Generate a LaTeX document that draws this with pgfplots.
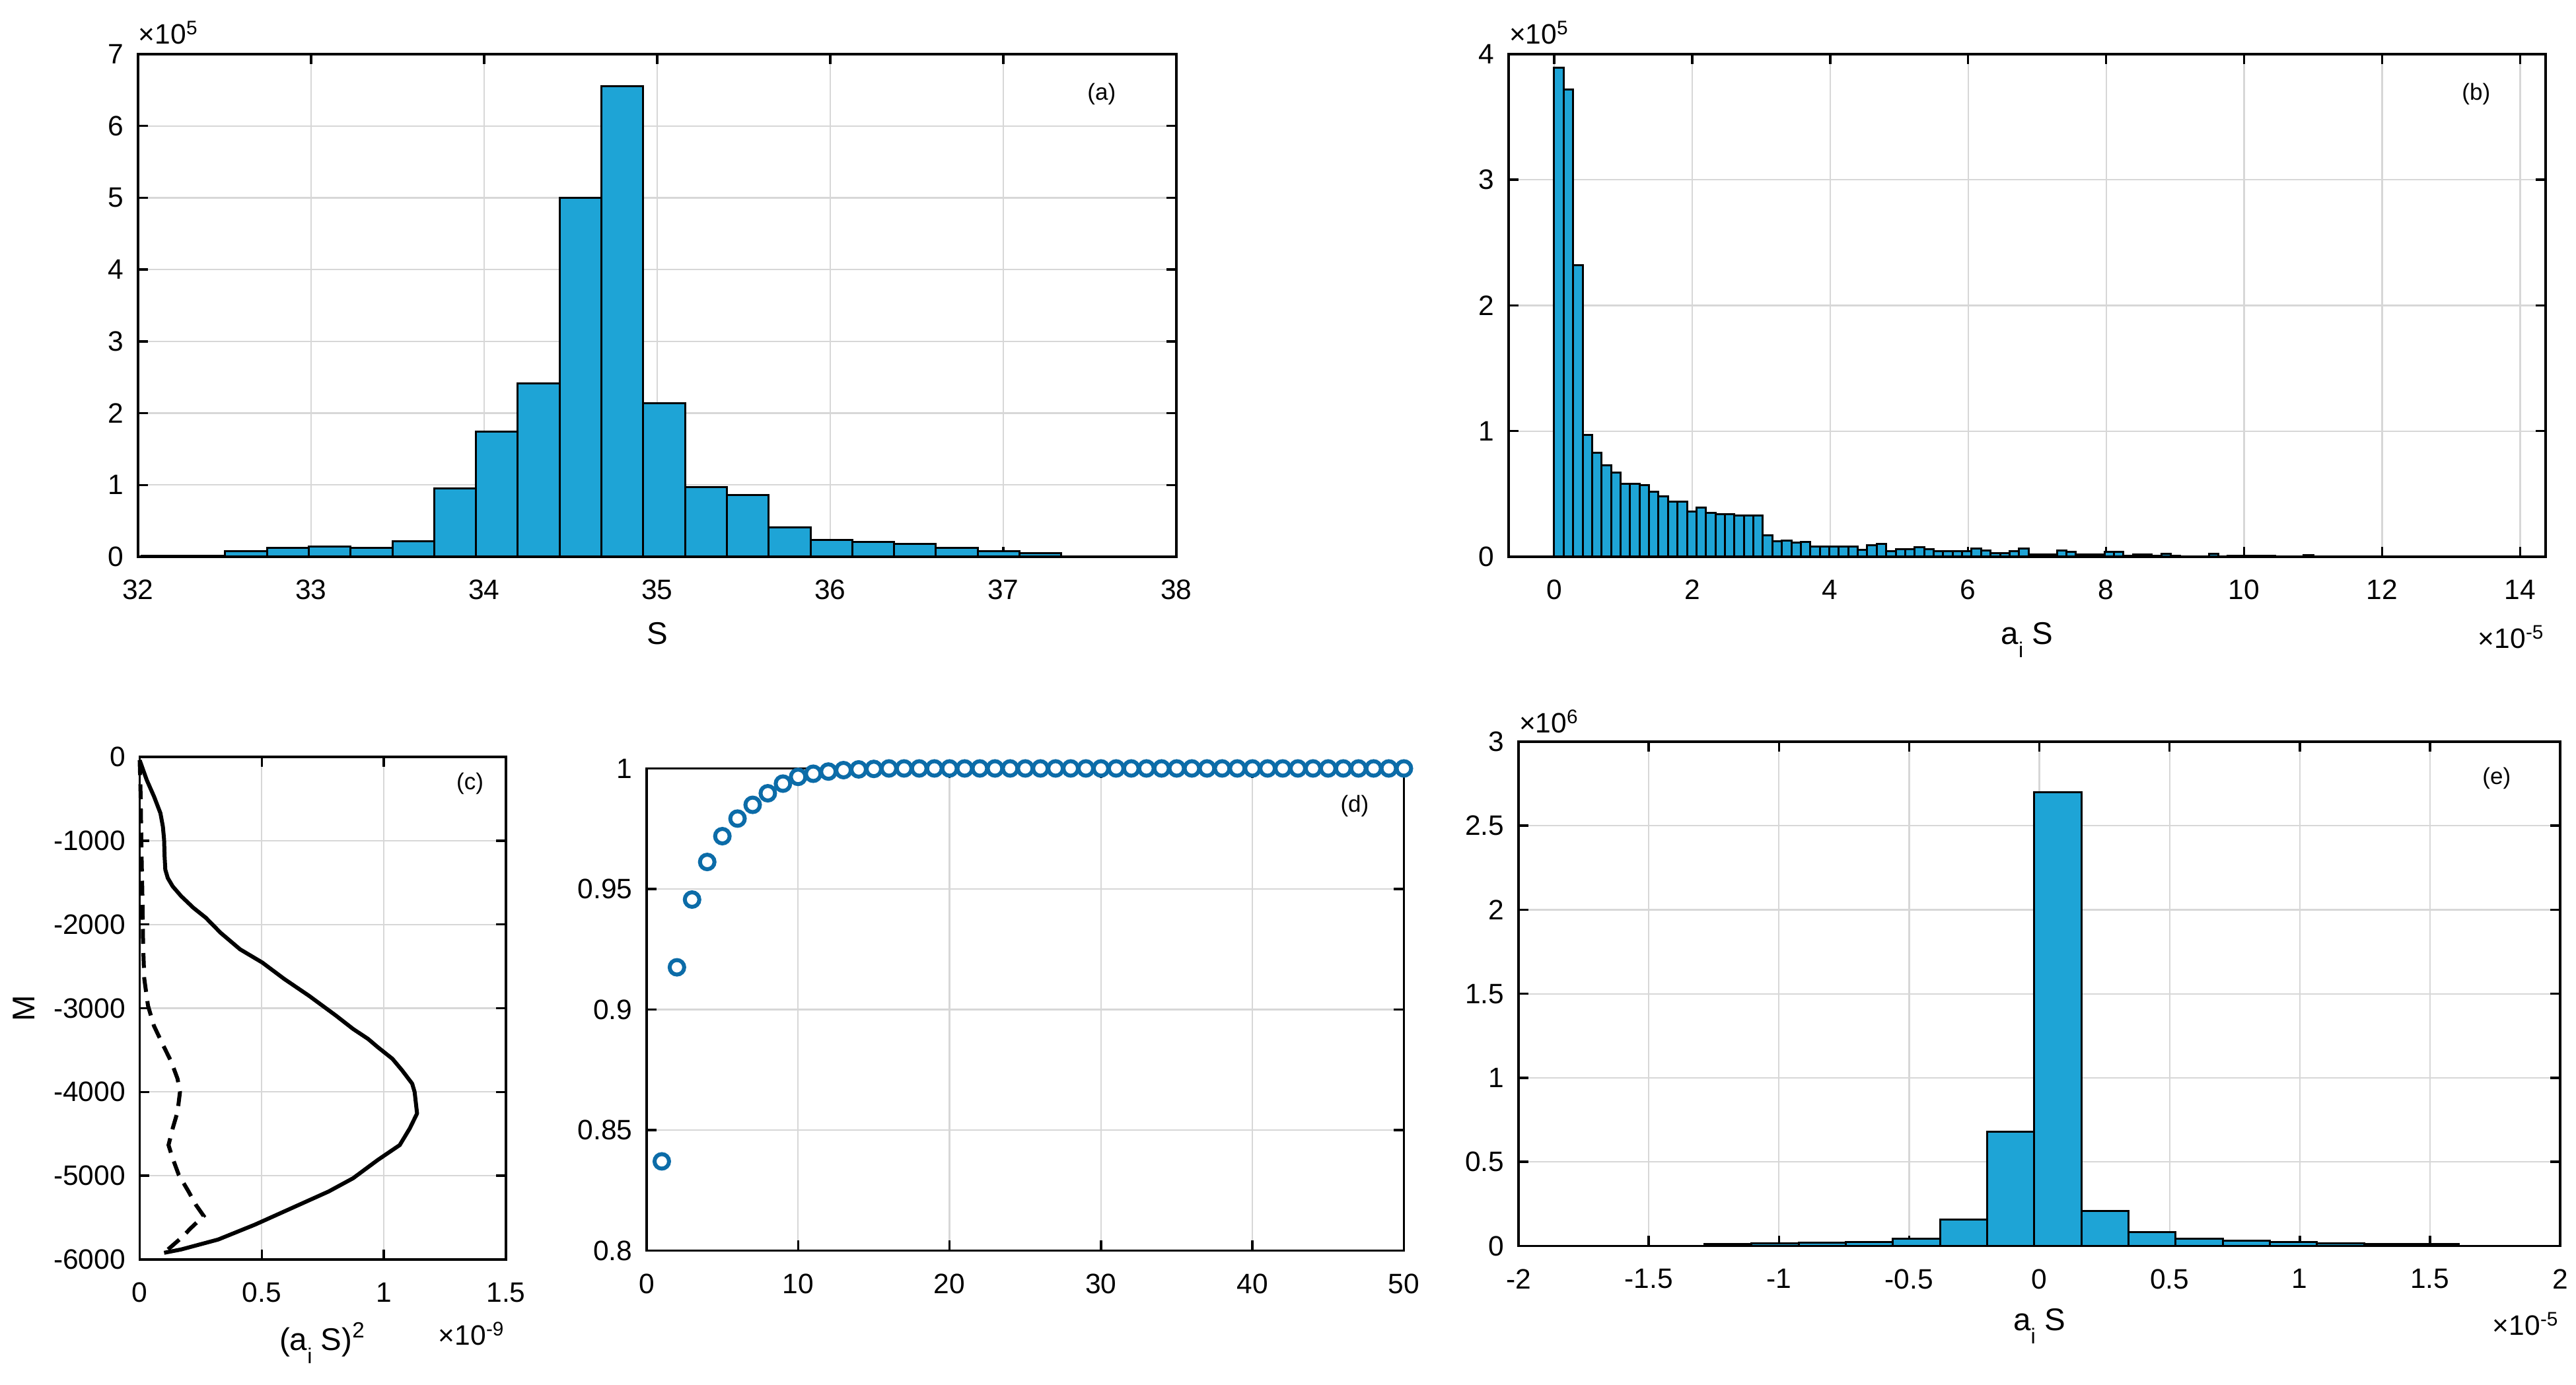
\documentclass[border=0pt]{standalone}
\usepackage{fontspec}
\setmainfont{Liberation Sans}
\usepackage{pgfplots}
\pgfplotsset{compat=1.18}
\definecolor{barblue}{RGB}{30,164,214}
\definecolor{mkblue}{RGB}{12,108,168}
\definecolor{gridgray}{RGB}{215,215,215}
\newcommand\tck{\fontsize{8.5}{10}\selectfont}
\newcommand\lbl{\fontsize{9.5}{11}\selectfont}
\newcommand\pl{\fontsize{7}{8}\selectfont}
\newcommand\sub[1]{\raisebox{-0.42em}{\fontsize{6.5}{7}\selectfont #1}}
\pgfplotsset{
 mat/.style={scale only axis, anchor=south west, clip=false,
  grid=major, grid style={gridgray, line width=0.45pt},
  axis line style={black, line width=0.7pt},
  tick style={black, line width=0.7pt},
  major tick length=3pt, tick align=inside, tick pos=both,
  tick label style={font=\tck},
  xticklabel shift=3.5pt, yticklabel shift=0.8pt,
  scaled ticks=false},
 hist/.style={ybar interval, fill=barblue, draw=black, line width=0.6pt}
}
\begin{document}
\begin{tikzpicture}
\useasboundingbox (0,0) rectangle (780pt,419.4pt);
% (a)
\begin{axis}[mat, at={(41.8pt,250.8pt)}, width=314.4pt, height=152.2pt,
  xmin=32, xmax=38, ymin=0, ymax=7,
  xtick={32,33,34,35,36,37,38}, xticklabels={32,33,34,35,36,37,38},
  ytick={0,1,2,3,4,5,6,7}, yticklabels={0,1,2,3,4,5,6,7}]
\addplot[hist] coordinates {
(32.020,0.015) (32.262,0.01) (32.503,0.076) (32.745,0.12) (32.986,0.14)
(33.228,0.12) (33.470,0.22) (33.711,0.95) (33.953,1.74) (34.194,2.41)
(34.436,5.00) (34.678,6.55) (34.919,2.14) (35.161,0.97) (35.402,0.86)
(35.644,0.41) (35.886,0.23) (36.127,0.205) (36.369,0.18) (36.610,0.12)
(36.852,0.076) (37.094,0.047) (37.335,0)};
\node[font=\pl] at (rel axis cs:0.928,0.921) {(a)};
\node[font=\tck, anchor=base west, inner sep=0pt, yshift=3pt] at (rel axis cs:0,1) {×10\textsuperscript{5}};
\node[font=\lbl, anchor=base, inner sep=0pt, yshift=-26.6pt] at (rel axis cs:0.5,0) {S};
\end{axis}
% (b)
\begin{axis}[mat, at={(456.8pt,250.8pt)}, width=314pt, height=152.2pt,
  xmin=-0.66, xmax=14.37, ymin=0, ymax=4,
  xtick={0,2,4,6,8,10,12,14}, xticklabels={0,2,4,6,8,10,12,14},
  ytick={0,1,2,3,4}, yticklabels={0,1,2,3,4}]
\addplot[hist] coordinates {
(0,3.89) (0.1375,3.72) (0.275,2.32) (0.4125,0.97) (0.55,0.83)
(0.6875,0.73) (0.825,0.67) (0.9625,0.58) (1.1,0.58) (1.2375,0.57)
(1.375,0.52) (1.5125,0.48) (1.65,0.44) (1.7875,0.44) (1.925,0.36)
(2.0625,0.39) (2.2,0.35) (2.3375,0.34) (2.475,0.34) (2.6125,0.33)
(2.75,0.33) (2.8875,0.33) (3.025,0.17) (3.1625,0.125) (3.3,0.13)
(3.4375,0.115) (3.575,0.12) (3.7125,0.08) (3.85,0.08) (3.9875,0.08)
(4.125,0.08) (4.2625,0.08) (4.4,0.055) (4.5375,0.09) (4.675,0.10)
(4.8125,0.046) (4.95,0.06) (5.0875,0.06) (5.225,0.074) (5.3625,0.06)
(5.5,0.042) (5.6375,0.042) (5.775,0.042) (5.9125,0.042) (6.05,0.063)
(6.1875,0.051) (6.325,0.028) (6.4625,0.028) (6.6,0.046) (6.7375,0.063)
(6.875,0.016) (7.0125,0.016) (7.15,0.016) (7.2875,0.051) (7.425,0.039)
(7.5625,0.016) (7.7,0.016) (7.8375,0.016) (7.975,0.039) (8.1125,0.039)
(8.25,0.007) (8.3875,0.016) (8.525,0.016) (8.6625,0.007) (8.8,0.023)
(8.9375,0.007) (9.075,0.005) (9.2125,0.005) (9.35,0.005) (9.4875,0.025)
(9.625,0.005) (9.7625,0.008) (9.9,0.008) (10.0375,0.008) (10.175,0.008)
(10.3125,0.008) (10.45,0.002) (10.5875,0.002) (10.725,0.002) (10.8625,0.012)
(11.0,0)};
\node[font=\pl] at (rel axis cs:0.933,0.921) {(b)};
\node[font=\tck, anchor=base west, inner sep=0pt, yshift=3pt] at (rel axis cs:0,1) {×10\textsuperscript{5}};
\node[font=\lbl, anchor=base, inner sep=0pt, yshift=-26.6pt] at (rel axis cs:0.5,0) {a\sub{i} S};
\node[font=\tck, anchor=base east, inner sep=0pt, yshift=-27.8pt] at (rel axis cs:1,0) {×10\textsuperscript{-5}};
\end{axis}
% (c)
\begin{axis}[mat, at={(42.3pt,38pt)}, width=110.9pt, height=152.2pt,
  xmin=0, xmax=1.5, ymin=-6000, ymax=0,
  xtick={0,0.5,1,1.5}, xticklabels={0,0.5,1,1.5},
  ytick={-6000,-5000,-4000,-3000,-2000,-1000,0},
  yticklabels={-6000,-5000,-4000,-3000,-2000,-1000,0}]
\addplot[black, line width=1.2pt, line join=round] coordinates {
(0.0,-40) (0.029,-277) (0.059,-475) (0.085,-673) (0.095,-832) (0.100,-990)
(0.102,-1188) (0.105,-1347) (0.115,-1446) (0.135,-1545) (0.170,-1663)
(0.220,-1802) (0.271,-1921) (0.331,-2099) (0.411,-2297) (0.502,-2455)
(0.593,-2653) (0.693,-2851) (0.804,-3089) (0.874,-3248) (0.935,-3366)
(0.975,-3465) (1.035,-3604) (1.075,-3743) (1.116,-3901) (1.126,-4000)
(1.136,-4257) (1.106,-4436) (1.065,-4634) (0.975,-4812) (0.874,-5030)
(0.774,-5188) (0.623,-5386) (0.472,-5584) (0.321,-5762) (0.170,-5880)
(0.100,-5920)};
\addplot[black, line width=1.2pt, dash pattern=on 4.5pt off 2.8pt] coordinates {
(0.0,-40) (0.004,-475) (0.007,-1069) (0.011,-1663) (0.014,-2257)
(0.019,-2653) (0.034,-2970) (0.058,-3208) (0.090,-3406) (0.130,-3644)
(0.155,-3842) (0.165,-4000) (0.155,-4238) (0.135,-4436) (0.118,-4634)
(0.135,-4792) (0.160,-4990) (0.200,-5188) (0.230,-5347) (0.262,-5480)
(0.210,-5624) (0.170,-5743) (0.100,-5920)};
\node[font=\pl] at (rel axis cs:0.902,0.947) {(c)};
\node[font=\lbl, anchor=base, inner sep=0pt, yshift=-27.6pt] at (rel axis cs:0.5,0) {(a\sub{i} S)\textsuperscript{2}};
\node[font=\tck, anchor=base east, inner sep=0pt, yshift=-26pt] at (rel axis cs:1,0) {×10\textsuperscript{-9}};
\node[font=\lbl, xshift=-35pt, rotate=90, anchor=center] at (rel axis cs:0,0.5) {M};
\end{axis}
% (d)
\begin{axis}[mat, at={(195.8pt,40.7pt)}, width=229.3pt, height=146pt,
  xmin=0, xmax=50, ymin=0.8, ymax=1,
  xtick={0,10,20,30,40,50}, xticklabels={0,10,20,30,40,50},
  ytick={0.8,0.85,0.9,0.95,1}, yticklabels={0.8,0.85,0.9,0.95,1}]
\addplot[only marks, mark=*, mark size=2.2pt, mark options={draw=mkblue, fill=white, line width=1.2pt}] coordinates {
(1,0.837) (2,0.9175) (3,0.9456) (4,0.9612) (5,0.9719) (6,0.9792) (7,0.9849)
(8,0.9897) (9,0.9937) (10,0.9965) (11,0.9978) (12,0.9987) (13,0.9993)
(14,0.9996) (15,0.9998) (16,1) (17,1) (18,1) (19,1) (20,1) (21,1) (22,1)
(23,1) (24,1) (25,1) (26,1) (27,1) (28,1) (29,1) (30,1) (31,1) (32,1)
(33,1) (34,1) (35,1) (36,1) (37,1) (38,1) (39,1) (40,1) (41,1) (42,1)
(43,1) (44,1) (45,1) (46,1) (47,1) (48,1) (49,1) (50,1)};
\node[font=\pl] at (rel axis cs:0.935,0.922) {(d)};
\end{axis}
% (e)
\begin{axis}[mat, at={(459.8pt,42.1pt)}, width=315.4pt, height=152.7pt,
  xmin=-2, xmax=2, ymin=0, ymax=3,
  xtick={-2,-1.5,-1,-0.5,0,0.5,1,1.5,2}, xticklabels={-2,-1.5,-1,-0.5,0,0.5,1,1.5,2},
  ytick={0,0.5,1,1.5,2,2.5,3}, yticklabels={0,0.5,1,1.5,2,2.5,3}]
\addplot[hist] coordinates {
(-1.2865,0.012) (-1.1055,0.014) (-0.9245,0.02) (-0.7435,0.024) (-0.5625,0.042)
(-0.3815,0.157) (-0.2005,0.678) (-0.0195,2.70) (0.1615,0.207) (0.3425,0.083)
(0.5235,0.042) (0.7045,0.030) (0.8855,0.024) (1.0665,0.014) (1.2475,0.012)
(1.4285,0.010) (1.6095,0)};
\node[font=\pl] at (rel axis cs:0.939,0.928) {(e)};
\node[font=\tck, anchor=base west, inner sep=0pt, yshift=2.6pt] at (rel axis cs:0,1) {×10\textsuperscript{6}};
\node[font=\lbl, anchor=base, inner sep=0pt, yshift=-25.7pt] at (rel axis cs:0.5,0) {a\sub{i} S};
\node[font=\tck, anchor=base east, inner sep=0pt, yshift=-27pt] at (rel axis cs:1,0) {×10\textsuperscript{-5}};
\end{axis}
\end{tikzpicture}
\end{document}
